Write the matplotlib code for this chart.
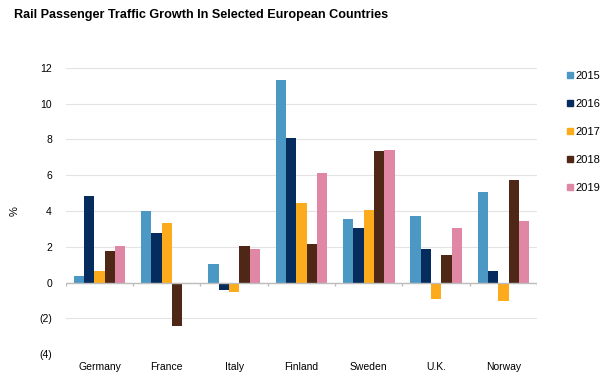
import numpy as np
import matplotlib
matplotlib.use("Agg")
import matplotlib.pyplot as plt
from matplotlib.lines import Line2D

plt.rcParams["font.family"] = ["Liberation Sans", "DejaVu Sans"]

countries = ["Germany", "France", "Italy", "Finland", "Sweden", "U.K.", "Norway"]
years = ["2015", "2016", "2017", "2018", "2019"]
g2015 = [0.35, 4.02, 1.02, 11.31, 3.53, 3.70, 5.04]
g2016 = [4.82, 2.75, -0.41, 8.11, 3.03, 1.86, 0.63]
g2017 = [0.63, 3.31, -0.52, 4.43, 4.04, -0.91, -1.04]
g2018 = [1.75, -2.42, 2.03, 2.14, 7.33, 1.53, 5.71]
g2019 = [2.03, 0.0, 1.86, 6.10, 7.44, 3.03, 3.42]
series = [g2015, g2016, g2017, g2018, g2019]
colors = ["#4b98c5", "#062c5d", "#fcab1c", "#4e2716", "#e087a6"]
yticks = [-4, -2, 0, 2, 4, 6, 8, 10, 12]


def fmt(v):
    return f"({abs(v)})" if v < 0 else str(v)


fig = plt.figure(figsize=(6.09, 3.84), dpi=100)
ax = fig.add_axes([0.108, 0.078, 0.774, 0.745])

x = np.arange(len(countries))
w = 0.154
for i, (vals, c) in enumerate(zip(series, colors)):
    ax.bar(x + (i - 2) * w, vals, width=w, color=c, linewidth=0, zorder=3)

ax.set_xlim(-0.5, len(countries) - 0.5)
ax.set_ylim(-4, 12)
ax.set_yticks(yticks)
ax.set_yticklabels([fmt(v) for v in yticks], fontsize=7.5)
ax.grid(axis="y", color="#e3e3e3", linewidth=0.8, zorder=0)
ax.axhline(0, color="#bdbdbd", linewidth=1, zorder=4)
ax.vlines(np.arange(len(countries) + 1) - 0.5, -0.2, 0, color="#bdbdbd",
          linewidth=1, zorder=4)
ax.set_xticks(x)
ax.set_xticklabels(countries, fontsize=7.5)
ax.tick_params(length=0)
ax.tick_params(axis="x", pad=6)
ax.tick_params(axis="y", pad=10)
for s in ax.spines.values():
    s.set_visible(False)
ax.set_ylabel("%", fontsize=8, labelpad=14)

fig.text(0.023, 0.962, "Rail Passenger Traffic Growth In Selected European Countries",
         fontsize=9.1, fontweight="bold", va="center")

handles = [Line2D([], [], marker="s", linestyle="none", color=c, markersize=5)
           for c in colors]
fig.legend(handles, years, loc="upper left", bbox_to_anchor=(0.923, 0.826),
           frameon=False, fontsize=8, handlelength=0.6, handletextpad=0.2,
           labelspacing=1.62, borderaxespad=0)

fig.savefig("out.png", dpi=100)
